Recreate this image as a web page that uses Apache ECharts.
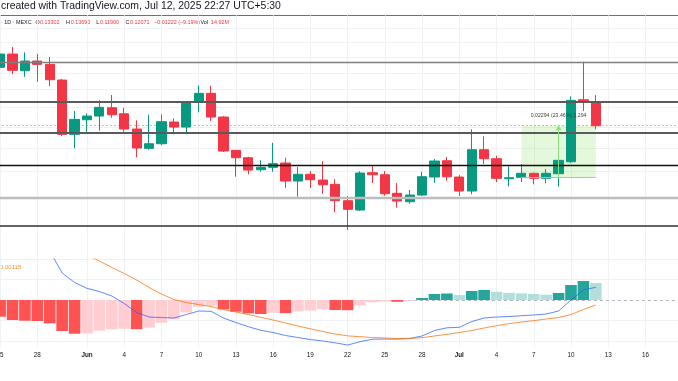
<!DOCTYPE html>
<html><head><meta charset="utf-8">
<script src="https://cdn.jsdelivr.net/npm/echarts@6/dist/echarts.min.js"></script>
<style>html,body{margin:0;padding:0;background:#fff}#c{width:678px;height:381px}</style>
</head><body><div id="c"></div>
<script>
// ---------- DATA ----------
const categories = ['05-25','05-26','05-27','05-28','05-29','05-30','05-31',
'06-01','06-02','06-03','06-04','06-05','06-06','06-07','06-08','06-09','06-10',
'06-11','06-12','06-13','06-14','06-15','06-16','06-17','06-18','06-19','06-20',
'06-21','06-22','06-23','06-24','06-25','06-26','06-27','06-28','06-29','06-30',
'07-01','07-02','07-03','07-04','07-05','07-06','07-07','07-08','07-09','07-10',
'07-11','07-12','07-13','07-14','07-15','07-16','07-17','07-18','07-19'];

const candleOpen = [0.15343,0.16204,0.15130,0.15745,0.15533,0.14563,0.11652,
0.12372,0.12561,0.12997,0.12681,0.11909,0.11001,0.11211,0.12256,0.12007,0.13321,0.13789,0.12510,0.10911,0.10584,0.10076,0.10175,0.10357,0.09619,0.09887,0.09658,0.09489,0.08871,0.08539,0.09952,0.09871,0.09145,0.08835,0.09081,0.09778,0.10455,
0.09778,0.09232,0.10938,0.10541,0.09709,0.09766,0.09928,0.09726,0.09912,0.10412,0.13431,0.13302];
const candleClose = [0.16204,0.15155,0.15745,0.15533,0.14581,0.11652,0.12392,
0.12561,0.13018,0.12629,0.11909,0.11015,0.11211,0.12271,0.12007,0.13288,0.13789,0.12510,0.10880,0.10584,0.10063,0.10175,0.10327,0.09619,0.09887,0.09670,0.09474,0.08871,0.08563,0.09940,0.09871,0.09130,0.08860,0.09081,0.09790,0.10442,0.09790,
0.09232,0.10938,0.10541,0.09726,0.09750,0.09928,0.09726,0.09928,0.10472,0.13398,0.13302,0.12071];
const candleLow = [0.13637,0.14926,0.14762,0.14462,0.14209,0.11571,0.11001,
0.11777,0.11826,0.12474,0.11777,0.10602,0.10938,0.11151,0.11652,0.11652,0.12754,0.12321,0.10835,0.09790,0.09887,0.09993,0.09993,0.09358,0.09018,0.09346,0.09130,0.08459,0.07865,0.08504,0.09540,0.09055,0.08620,0.08763,0.09055,0.09552,0.09631,
0.09044,0.09107,0.10314,0.09579,0.09412,0.09579,0.09489,0.09528,0.09396,0.10357,0.12822,0.11900];
const candleHigh = [0.16953,0.16677,0.16318,0.16204,0.16006,0.14623,0.12822,
0.12702,0.13398,0.13693,0.12997,0.12342,0.12636,0.12636,0.12444,0.13360,0.14226,0.14226,0.12561,0.10925,0.10628,0.10472,0.11257,0.10584,0.10188,0.10022,0.10429,0.09698,0.09044,0.10010,0.10272,0.10022,0.09540,0.09270,0.09993,0.10528,0.10615,
0.09859,0.11894,0.11557,0.10672,0.10217,0.10314,0.09960,0.10105,0.10485,0.13620,0.15700,0.13690];

const histValues = [-0.00407,-0.00488,-0.00505,-0.00512,-0.00569,-0.00756,-0.00822,
-0.00817,-0.00749,-0.00715,-0.00700,-0.00712,-0.00676,-0.00554,-0.00471,-0.00305,-0.00163,-0.00139,-0.00227,-0.00285,-0.00325,-0.00342,-0.00312,-0.00320,-0.00281,-0.00256,-0.00224,-0.00244,-0.00249,-0.00134,-0.00056,-0.00039,-0.00044,-0.00017,0.00049,0.00146,0.00159,
0.00122,0.00220,0.00244,0.00200,0.00176,0.00163,0.00146,0.00129,0.00171,0.00366,0.00464,0.00415];
const macdValues = [0.01830,0.01659,0.01513,0.01366,0.01196,0.00659,0.00427,
0.00285,0.00207,0.00098,-0.00085,-0.00305,-0.00415,-0.00427,-0.00439,-0.00354,-0.00268,-0.00276,-0.00439,-0.00549,-0.00651,-0.00739,-0.00793,-0.00866,-0.00915,-0.00964,-0.01000,-0.01044,-0.01098,-0.01017,-0.00956,-0.00952,-0.00955,-0.00939,-0.00878,-0.00744,-0.00678,
-0.00666,-0.00525,-0.00439,-0.00415,-0.00403,-0.00383,-0.00366,-0.00342,-0.00268,0.00000,0.00244,0.00310];
const signalValues = [0.02196,0.02098,0.01976,0.01854,0.01732,0.01415,0.01244,
0.01098,0.00952,0.00793,0.00647,0.00488,0.00305,0.00146,0.00012,-0.00061,-0.00110,-0.00159,-0.00232,-0.00293,-0.00354,-0.00422,-0.00488,-0.00561,-0.00634,-0.00703,-0.00769,-0.00830,-0.00874,-0.00895,-0.00915,-0.00927,-0.00939,-0.00935,-0.00920,-0.00878,-0.00837,
-0.00793,-0.00744,-0.00683,-0.00625,-0.00578,-0.00537,-0.00503,-0.00464,-0.00427,-0.00354,-0.00232,-0.00122];

const tickDates = ['05-25','05-28','06-01','06-04','06-07','06-10','06-13','06-16','06-19','06-22','06-25','06-28','07-01','07-04','07-07','07-10','07-13','07-16'];
const tickTexts = ['25','28','Jun','4','7','10','13','16','19','22','25','28','Jul','4','7','10','13','16'];

const levelPrices = [0.15661, 0.13305, 0.11729, 0.10259, 0.08981, 0.08006];
const gridPrices = [0.08,0.09,0.10,0.11,0.12,0.13,0.14,0.15,0.16,0.17,0.18];
const macdGridValues = [0.01, 0.005, -0.005, -0.01];
const lastClose = 0.12071;
const measureFrom = '07-06', measureTo = '07-12', measureArrowAt = '07-09';
const measureLow = 0.09778, measureHigh = 0.12071;
const measureText = '0.02294 (23.46%) 2,294';
const headerText = 'created with TradingView.com, Jul 12, 2025 22:27 UTC+5:30';
const legendParts = [['· 1D · MEXC','k'],['O','k'],['0.13302','r'],['H','k'],['0.13690','r'],['L','k'],['0.11900','r'],['C','k'],['0.12071','r'],['−0.01222 (−9.19%)','r'],['Vol','k'],['14.92M','r']];
const macdLabel = '0.00115';

// ---------- STYLE ----------
const FONT = "'Liberation Sans', Arial, sans-serif";
const UP = '#089981', DOWN = '#F23645';
const levelStyles = [
  {color:'#7f7f7f', width:1.3}, {color:'#5a5a5a', width:1.8}, {color:'#5a5a5a', width:1.8},
  {color:'#111111', width:1.3}, {color:'#bdbdbd', width:2.4}, {color:'#333333', width:1.5}
];
const legendX = [1, 35.5, 40, 66, 70.7, 96.3, 100, 125.5, 130, 154, 200.5, 211];

const idx = d => categories.indexOf(d);
const candleData = candleOpen.map((o,i)=>[o, candleClose[i], candleLow[i], candleHigh[i]]);
const histData = histValues.map((v,i)=>{
  const p = i>0 ? histValues[i-1] : 0;
  let c;
  if (v >= 0) c = v >= p ? '#26A69A' : '#B2DFDB';
  else c = v < p ? '#FF5252' : '#FFCDD2';
  return {value: v, itemStyle: {color: c}};
});
const vLines = tickDates.map(d => ({xAxis: idx(d)}));

const chart = echarts.init(document.getElementById('c'), null, {renderer:'canvas'});

const graphics = [
  {type:'text', x:1, y:6.5, style:{text: headerText, font: '10.4px ' + FONT, fill:'#131722', verticalAlign:'middle'}},
  {type:'line', shape:{x1:0,y1:15.5,x2:678,y2:15.5}, style:{stroke:'#707070', lineWidth:1}},
  {type:'text', x:0, y:267.3, style:{text: macdLabel, font: '6px ' + FONT, fill:'#f7953b', verticalAlign:'middle'}}
];
legendParts.forEach((p,i)=>{
  graphics.push({type:'text', x: legendX[i], y: 22.7, style:{text: p[0], font:'5.4px ' + FONT, fill: p[1]==='r' ? '#F23645' : '#131722', verticalAlign:'middle'}});
});

const GL = -6.1, GR = -10.9;
const P = 6;
chart.setOption({
  animation: false,
  backgroundColor: '#ffffff',
  grid: [
    {left: GL, right: GR, top: 15.3, height: 243.1, containLabel:false, outerBoundsMode:'none'},
    {left: GL, right: GR, top: 259, height: 88, containLabel:false, outerBoundsMode:'none'}
  ],
  xAxis: [
    {type:'category', gridIndex:0, data: categories, show:false},
    {type:'category', gridIndex:1, data: categories,
     axisLine:{show:false}, axisTick:{show:false}, splitLine:{show:false},
     axisLabel:{
       interval: (i, v) => tickDates.indexOf(v) >= 0,
       formatter: v => { const t = tickTexts[tickDates.indexOf(v)]; return /[A-Za-z]/.test(t) ? '{b|' + t + '}' : t; },
       fontSize: 6.3, color:'#131722', fontFamily: FONT, margin: 5, hideOverlap:false,
       rich: {b: {fontSize: 6.3, fontWeight:'bold', color:'#131722', fontFamily: FONT}}
     }}
  ],
  yAxis: [
    {type:'log', gridIndex:0, min:0.07, max:0.19, show:false},
    {type:'value', gridIndex:1, min:-0.01146, max:0.01, show:false}
  ],
  graphic: graphics,
  series: [
    {type:'line', xAxisIndex:0, yAxisIndex:0, data:[], silent:true, z:0,
     markLine:{z:0, precision:P, silent:true, symbol:'none', label:{show:false}, animation:false,
       lineStyle:{color:'#eff1f4', width:1, type:'solid'},
       data: gridPrices.map(p=>({yAxis:p})).concat(vLines)}},
    {type:'candlestick', xAxisIndex:0, yAxisIndex:0, data: candleData, barWidth: 9.7,
     itemStyle:{color: UP, color0: DOWN, borderColor: UP, borderColor0: DOWN, borderWidth: 1}},
    {type:'line', xAxisIndex:0, yAxisIndex:0, data:[], silent:true,
     markLine:{z:5, precision:P, silent:true, symbol:'none', label:{show:false}, animation:false,
       data: levelPrices.map((p,i)=>({yAxis:p, lineStyle:{color: levelStyles[i].color, width: levelStyles[i].width, type:'solid'}}))
         .concat([{yAxis: lastClose, lineStyle:{color:'#F23645', opacity:0.45, width:1, type:[2,2]}}])}},
    {type:'line', xAxisIndex:0, yAxisIndex:0, data:[], silent:true,
     markArea:{silent:true, itemStyle:{color:'rgba(110,225,70,0.19)'},
       data:[[{coord:[idx(measureFrom), measureHigh]}, {coord:[idx(measureTo), measureLow]}]]},
     markLine:{z:6, precision:P, silent:true, animation:false, symbol:'none',
       lineStyle:{color:'#86e07a', width:1, type:'solid'},
       data:[
         [{coord:[idx(measureFrom), measureLow]}, {coord:[idx(measureTo), measureLow]}],
         [{coord:[idx(measureArrowAt), measureLow], symbol:'none'},
          {coord:[idx(measureArrowAt), measureHigh], symbol:'arrow', symbolSize:[5,5],
           label:{show:true, position:'end', distance:8, formatter: measureText, fontSize:5.2, color:'#444', fontFamily: FONT}}]
       ],
       label:{show:false}}},
    {type:'line', xAxisIndex:1, yAxisIndex:1, data:[], silent:true, z:0,
     markLine:{z:0, precision:P, silent:true, symbol:'none', label:{show:false}, animation:false,
       lineStyle:{color:'#eff1f4', width:1, type:'solid'},
       data: macdGridValues.map(v=>({yAxis:v})).concat(vLines)
         .concat([{yAxis:0, lineStyle:{color:'#b2b5be', width:1, type:[3,3]}}])}},
    {type:'bar', xAxisIndex:1, yAxisIndex:1, data: histData, barWidth: 11.6, z:2},
    {type:'line', xAxisIndex:1, yAxisIndex:1, data: macdValues, showSymbol:false, symbol:'none', z:3,
     lineStyle:{color:'#2962FF', width:1, opacity:0.75}},
    {type:'line', xAxisIndex:1, yAxisIndex:1, data: signalValues, showSymbol:false, symbol:'none', z:3,
     lineStyle:{color:'#FF6D00', width:1, opacity:0.75}}
  ]
});
</script></body></html>
